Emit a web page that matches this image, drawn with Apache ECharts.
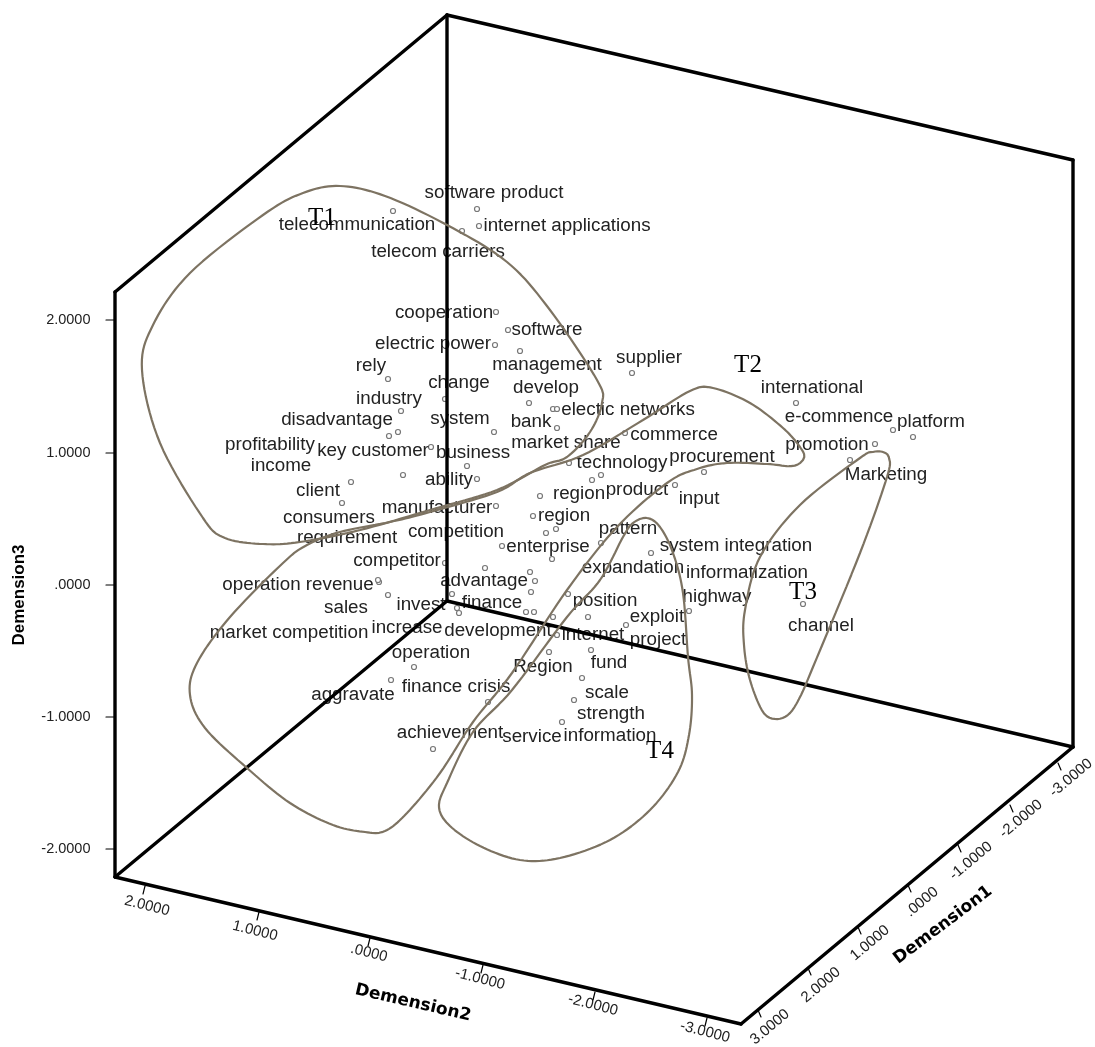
<!DOCTYPE html>
<html>
<head>
<meta charset="utf-8">
<title>Demension plot</title>
<script src="https://cdn.jsdelivr.net/npm/echarts@6/dist/echarts.min.js"></script>
<style>
  html, body { margin: 0; padding: 0; background: #fff; }
  #chart { width: 1095px; height: 1047px; }
</style>
</head>
<body>
<div id="chart"></div>
<script>
// plot is a flat picture of a 3d box, so everything is read in picture units
const pointX = [393,477,479,462,496,508,495,520,388,445,401,529,494,557,553,557,398,389,431,467,403,477,351,342,496,569,625,704,675,592,601,632,796,893,913,875,850,540,533,546,556,502,552,601,651,689,803,568,626,588,557,591,549,530,535,531,526,534,553,445,379,378,388,452,485,457,459,414,391,488,582,574,562,433]
const pointY = [211,209,226,231,312,330,345,351,379,399,411,403,432,428,409,409,432,436,447,466,475,479,482,503,506,463,433,472,485,480,475,373,403,430,437,444,460,496,516,533,529,546,559,543,553,611,604,594,625,617,635,650,652,572,581,592,612,612,617,563,582,580,595,594,568,608,613,667,680,702,678,700,722,749]

const termNames = ['telecommunication','software product','internet applications','telecom carriers','cooperation','software','electric power','management','rely','change','industry','develop','system','bank','electic networks','disadvantage','profitability','key customer','business','income','ability','client','consumers','manufacturer','market share','technology','commerce','procurement','product','input','supplier','international','e-commence','platform','promotion','Marketing','region','region','enterprise','pattern','system integration','expandation','informatization','highway','channel','position','exploit','project','internet','fund','competition','requirement','competitor','operation revenue','sales','invest','advantage','finance','market competition','increase','development','operation','aggravate','finance crisis','Region','scale','strength','information','service','achievement']
const termX = [357,494,567,438,444,547,433,547,371,459,389,546,460,531,628,337,270,373,473,281,449,318,329,437,566,622,674,722,637,699,649,812,839,931,827,886,579,564,548,628,736,633,747,717,821,605,657,658,593,609,456,347,397,298,346,421,484,492,289,407,498,431,353,456,543,607,611,610,532,450]
const termY = [225,193,226,252,313,330,344,365,366,383,399,388,419,422,410,420,445,451,453,466,480,491,518,508,443,463,435,457,490,499,358,388,417,422,445,475,494,516,547,529,546,568,573,597,626,601,617,640,635,663,532,538,561,585,608,605,581,603,633,628,631,653,695,687,667,693,714,736,737,733]

// box corners
const boxCorners = {
  backTop: [447, 15], backBottom: [447, 601],
  rightTop: [1073, 160], rightBottom: [1073, 747],
  leftTop: [115, 292], leftBottom: [115, 877],
  frontBottom: [741, 1024]
}
const boxEdges = [
  ['backTop', 'leftTop'], ['backTop', 'backBottom'], ['backTop', 'rightTop'],
  ['rightTop', 'rightBottom'], ['leftTop', 'leftBottom'],
  ['leftBottom', 'frontBottom'], ['frontBottom', 'rightBottom'],
  ['backBottom', 'leftBottom'], ['backBottom', 'rightBottom']
]

// tick labels
const dim3Ticks = ['2.0000', '1.0000', '.0000', '-1.0000', '-2.0000']
const dim3TickY = [320, 453, 585, 717, 849]
const dim2Ticks = ['2.0000', '1.0000', '.0000', '-1.0000', '-2.0000', '-3.0000']
const dim2TickX = [145, 259, 370, 483, 595, 707]
const dim2TickY = [886, 912, 938, 965, 992, 1018]
const dim2LabelX = [147, 255, 369, 480, 593, 705]
const dim2LabelY = [906, 931, 953, 979, 1005, 1032]
const dim1Ticks = ['3.0000', '2.0000', '1.0000', '.0000', '-1.0000', '-2.0000', '-3.0000']
const dim1TickX = [758, 808, 858, 908, 958, 1010, 1058]
const dim1TickY = [1010, 968, 927, 885, 845, 805, 763]
const dim1LabelX = [770, 821, 870, 922, 971, 1021, 1071]
const dim1LabelY = [1027, 985, 943, 902, 861, 819, 778]

// hand drawn topic outlines, closed loops
const t1Outline = [[340,186],[303,193],[263,215],[190,273],[153,325],[142,370],[160,443],[203,518],[225,538],[263,544],[300,542],[360,530],[430,510],[497,490],[545,465],[567,457],[590,432],[602,403],[597,380],[550,310],[507,262],[447,225],[385,196]]
const t2Outline = [[713,388],[750,403],[783,428],[800,447],[804,458],[793,466],[767,464],[727,463],[697,469],[667,483],[617,527],[567,590],[512,673],[473,722],[440,773],[407,813],[385,831],[365,832],[333,825],[290,803],[247,768],[205,728],[190,695],[197,663],[230,617],[283,563],[307,545],[340,532],[390,522],[430,512],[497,492],[530,473],[583,455],[643,420],[690,391]]
const t3Outline = [[883,452],[889,458],[887,477],[860,553],[813,667],[800,697],[789,714],[776,719],[763,712],[750,680],[744,645],[745,610],[760,557],[800,505],[860,458],[873,452]]
const t4Outline = [[647,518],[660,527],[673,553],[683,593],[688,657],[692,695],[689,735],[678,772],[650,810],[610,840],[560,858],[520,860],[480,846],[450,826],[439,807],[447,783],[473,732],[512,690],[567,617],[600,580],[623,537],[633,523]]
const topicNames = ['T1', 'T2', 'T3', 'T4']
const topicX = [322, 748, 803, 660]
const topicY = [218, 365, 592, 751]

const LINE_COLOR = '#000000'
const OUTLINE_COLOR = '#7d7362'
const TEXT_COLOR = '#222222'
const FONT = '"Liberation Sans", Arial, sans-serif'

function segment(a, b, width, color) {
  return {
    type: 'line',
    data: [a, b],
    symbol: 'none',
    silent: true,
    z: 4,
    lineStyle: { color: color, width: width, cap: 'round' }
  }
}

// closed catmull-rom so the loops have no seam where they start
function closeLoop(pts) {
  const out = []
  const n = pts.length
  for (let i = 0; i < n; i++) {
    const p0 = pts[(i - 1 + n) % n]
    const p1 = pts[i]
    const p2 = pts[(i + 1) % n]
    const p3 = pts[(i + 2) % n]
    for (let s = 0; s < 10; s++) {
      const t = s / 10
      const f = function(k) {
        return 0.5 * (2 * p1[k] + (p2[k] - p0[k]) * t +
          (2 * p0[k] - 5 * p1[k] + 4 * p2[k] - p3[k]) * t * t +
          (3 * p1[k] - p0[k] - 3 * p2[k] + p3[k]) * t * t * t)
      }
      out.push([f(0), f(1)])
    }
  }
  out.push(out[0])
  return out
}

function outline(points) {
  return {
    type: 'line',
    data: closeLoop(points),
    symbol: 'none',
    silent: true,
    z: 5,
    lineStyle: { color: OUTLINE_COLOR, width: 2.2 }
  }
}

// text placed at a picture position, the symbol is only there to hold the label
function textSeries(names, xs, ys, fontSize, opts) {
  opts = opts || {}
  return {
    type: 'scatter',
    symbol: 'circle',
    symbolSize: 1,
    silent: true,
    z: opts.z || 3,
    itemStyle: { color: 'rgba(0,0,0,0)', opacity: 1 },
    data: names.map(function(n, i) {
      return { name: n, value: [xs[i], ys[i]] }
    }),
    label: {
      show: true,
      position: opts.position || 'inside',
      distance: 0,
      formatter: '{b}',
      rotate: opts.rotate || 0,
      color: opts.color || TEXT_COLOR,
      fontSize: fontSize,
      fontWeight: opts.weight || 'normal',
      fontFamily: opts.family || FONT
    }
  }
}

const series = []

boxEdges.forEach(function(e) {
  series.push(segment(boxCorners[e[0]], boxCorners[e[1]], 3.4, LINE_COLOR))
})

dim3TickY.forEach(function(y) {
  series.push(segment([106, y], [115, y], 1.2, LINE_COLOR))
})
dim2TickX.forEach(function(x, i) {
  series.push(segment([x, dim2TickY[i]], [x - 2, dim2TickY[i] + 8], 1.2, LINE_COLOR))
})
dim1TickX.forEach(function(x, i) {
  series.push(segment([x, dim1TickY[i]], [x + 3, dim1TickY[i] + 7], 1.2, LINE_COLOR))
})

series.push(outline(t1Outline), outline(t2Outline), outline(t3Outline), outline(t4Outline))

series.push({
  type: 'scatter',
  symbol: 'circle',
  symbolSize: 5,
  silent: true,
  z: 3,
  data: pointX.map(function(x, i) { return [x, pointY[i]] }),
  itemStyle: { color: '#ffffff', borderColor: '#777777', borderWidth: 1.2, opacity: 1 }
})

series.push(textSeries(termNames, termX, termY, 18.8))
series.push(textSeries(topicNames, topicX, topicY, 25, { family: '"Liberation Serif", serif', color: '#000', z: 6 }))
series.push(textSeries(dim3Ticks, dim3Ticks.map(function() { return 91 }), dim3TickY, 14.5, { position: 'left' }))
series.push(textSeries(dim2Ticks, dim2LabelX, dim2LabelY, 15, { rotate: -14 }))
series.push(textSeries(dim1Ticks, dim1LabelX, dim1LabelY, 15, { rotate: 40 }))
series.push(textSeries(['Demension3'], [19], [595], 17, { rotate: 90, weight: 'bold', color: '#000' }))
series.push(textSeries(['Demension2'], [413], [1003], 17, { rotate: -13, weight: 'bold', color: '#000', family: '"DejaVu Sans", sans-serif' }))
series.push(textSeries(['Demension1'], [943], [925], 17, { rotate: 37, weight: 'bold', color: '#000', family: '"DejaVu Sans", sans-serif' }))

const myChart = echarts.init(document.getElementById('chart'), null, { renderer: 'canvas' })
myChart.setOption({
  animation: false,
  backgroundColor: '#ffffff',
  grid: { left: 0, right: 0, top: 0, bottom: 0 },
  xAxis: { type: 'value', min: 0, max: 1095, show: false },
  yAxis: { type: 'value', min: 0, max: 1047, inverse: true, show: false },
  series: series
})
</script>
</body>
</html>
